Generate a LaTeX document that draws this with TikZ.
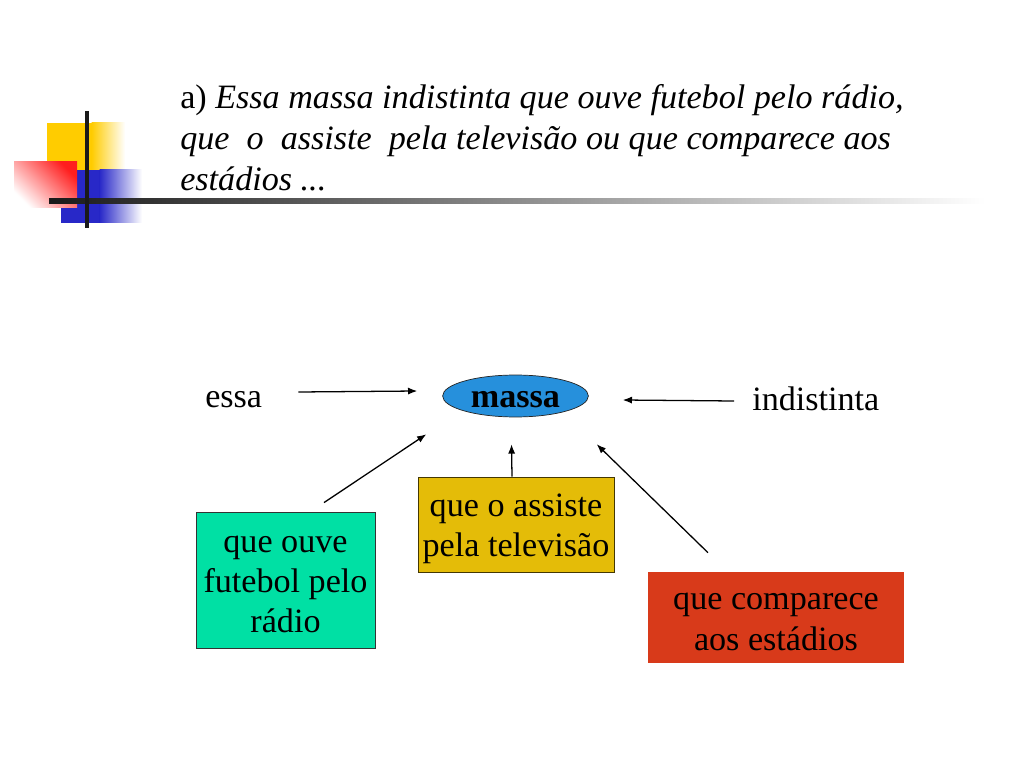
\documentclass[tikz,border=0pt]{standalone}
\usepackage{fontspec}
\setmainfont{Liberation Serif}
\usetikzlibrary{shapes.geometric,arrows.meta}
\definecolor{tealc}{RGB}{0,224,164}
\definecolor{yellowbox}{RGB}{228,188,8}
\definecolor{redbox}{RGB}{216,58,26}
\definecolor{ellblue}{RGB}{38,144,220}
\definecolor{decoyellow}{RGB}{255,204,0}
\definecolor{decored}{RGB}{255,30,30}
\definecolor{decoblue}{RGB}{40,40,200}
\definecolor{darkline}{RGB}{26,26,26}
\newcommand{\topstrut}{\rule{0pt}{22pt}}
\newcommand{\botstrut}{\rule[-4.4pt]{0pt}{4.4pt}}
\begin{document}
\begin{tikzpicture}[x=0.703125pt, y=-0.703125pt,
  txt/.style={inner sep=0pt, font=\fontsize{24}{28.2}\selectfont},
  boxnode/.style={txt, rectangle, align=center},
  arr/.style={line width=0.9pt, -{Latex[length=6.5pt,width=5pt]}}]
\useasboundingbox (0,0) rectangle (1024,768);
\fill[white] (0,0) rectangle (1024,768);
% decoration
\fill[decoyellow] (47,123) rectangle (92,171);
\shade[left color=decoyellow, right color=white] (91.5,123) rectangle (125,171);
\fill[decoblue] (61,170) rectangle (100,223);
\shade[left color=decoblue, right color=white] (99.5,170) rectangle (142,223);
\shade[top color=decored, bottom color=white, shading angle=-45] (14,162) rectangle (77,208);
\shade[left color=darkline, right color=white] (49,198.5) rectangle (985,203.5);
\draw[darkline, line width=2.8pt] (87,111) -- (87,228);
% title
\node[txt, anchor=base west] (t1) at (180,109) {a) \textit{Essa massa indistinta que ouve futebol pelo rádio,}};
\node[txt, anchor=base west] (t2) at (180,150) {\textit{que\ \ o\ \ assiste\ \ pela televisão ou que comparece aos}};
\node[txt, anchor=base west] (t3) at (180,191) {\textit{estádios ...}};
% diagram
\node[txt, anchor=base west] (essa) at (205,407) {essa};
\node[txt, anchor=base west] (indistinta) at (752,410) {indistinta};
\node[ellipse, draw=black!85, line width=0.5pt, fill=ellblue, inner sep=0pt,
      minimum width=102.5pt, minimum height=29.5pt,
      text height=15.5pt, text depth=0pt, font=\fontsize{24}{28.2}\selectfont\bfseries] (massa) at (515.5,396) {massa};
\node[boxnode, draw=black!80, line width=0.6pt, fill=tealc, minimum width=125.9pt, minimum height=95.6pt] (radio) at (285.5,580)
  {\topstrut que ouve\\futebol pelo\\rádio\botstrut};
\node[boxnode, draw=black!70!yellowbox, line width=0.6pt, fill=yellowbox, minimum width=137.8pt, minimum height=66.8pt] (tv) at (516,524.5)
  {\topstrut que o assiste\\pela televisão\botstrut};
\node[boxnode, fill=redbox, minimum width=180pt, minimum height=64pt] (estadio) at (776,617.5)
  {\topstrut que comparece\\aos estádios\botstrut};
% connectors
\draw[arr] ([shift={(36,-15)}]essa.base east) -- ([shift={(-25,-5)}]massa.west);
\draw[arr] ([shift={(-18,-9)}]indistinta.base west) -- ([shift={(34,4)}]massa.east);
\draw[arr] ([shift={(38.5,-9)}]radio.north) -- ([shift={(-37.4,23.2)}]massa.south west);
\draw[arr] ([shift={(-4,0)}]tv.north) -- ([shift={(-4,27)}]massa.south);
\draw[arr] ([shift={(-68,-19)}]estadio.north) -- ([shift={(29.4,33.2)}]massa.south east);
\end{tikzpicture}
\end{document}
